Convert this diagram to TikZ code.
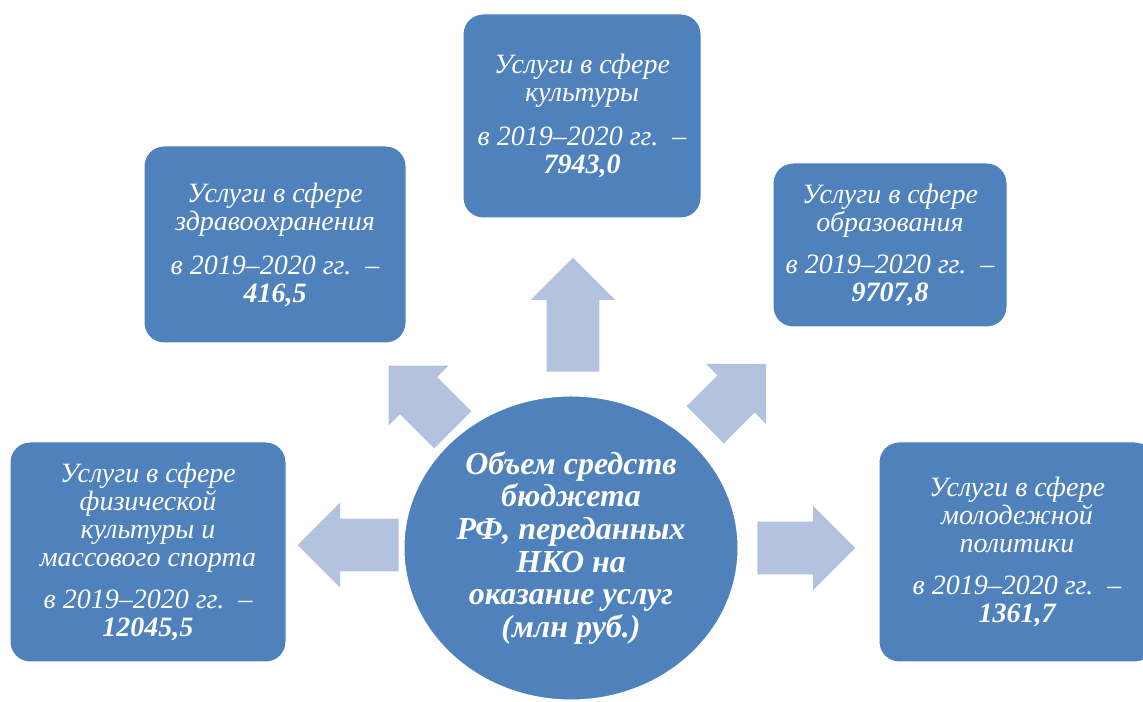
\documentclass[tikz,border=0pt]{standalone}
\usepackage{fontspec}
\setmainfont{Liberation Serif}
\usepackage{tikz}
\usetikzlibrary{shapes.geometric,shapes.arrows}
\definecolor{boxblue}{HTML}{4F81BD}
\definecolor{arrowblue}{HTML}{B3C2DE}
\tikzset{x=0.75pt,y=0.75pt,
    service/.style={draw=white,line width=0.75pt,fill=boxblue,rounded corners=15pt,
        text=white,align=center,inner sep=0pt,
        font=\itshape\fontsize{21}{21}\selectfont},
    total/.style={ellipse,draw=white,line width=0.75pt,fill=boxblue,text=white,
        align=center,inner sep=0pt,
        font=\bfseries\itshape\fontsize{24}{24.5}\selectfont},
    flow/.style={single arrow,fill=arrowblue,draw=none,anchor=tail,
        inner xsep=0pt,inner ysep=19.5pt,
        minimum width=63pt,single arrow head extend=12pt}}

\begin{document}
\begin{tikzpicture}
    \clip (0,0) rectangle (1143,702);
    \node[flow,minimum height=85.5pt,rotate=90]  (toculture) at (573,330) {};
    \node[flow,minimum height=75.75pt,rotate=180] (tosport) at (399,157) {};
    \node[flow,minimum height=73.5pt]            (toyouth) at (757,154) {};
    \node[flow,minimum height=68pt,rotate=135]   (tohealth) at (453,272) {};
    \node[flow,minimum height=64.5pt,rotate=45]  (toedu) at (705,277) {};

    \node[total,minimum width=250.5pt,minimum height=228pt] (budget) at (571,154)
        {Объем средств\\ бюджета\\ РФ, переданных\\ НКО на\\ оказание услуг\\ (млн руб.)};

    \node[service,minimum width=207pt,minimum height=165pt] (sport) at (148,150)
        {Услуги в сфере\\ физической\\ культуры и\\ массового спорта\\[10pt]
         в 2019–2020 гг.~~–\\ \textbf{12045,5}};
    \node[service,minimum width=196.5pt,minimum height=147.75pt] (health) at (275,457.5)
        {Услуги в сфере\\ здравоохранения\\[12pt] в 2019–2020 гг.~~–\\ \textbf{416,5}};
    \node[service,minimum width=178.5pt,minimum height=153pt] (culture) at (582,586)
        {Услуги в сфере\\ культуры\\[12pt] в 2019–2020 гг.~~–\\ \textbf{7943,0}};
    \node[service,minimum width=175.5pt,minimum height=123pt] (edu) at (890,457)
        {Услуги в сфере\\ образования\\[10pt] в 2019–2020 гг.~~–\\ \textbf{9707,8}};
    \node[service,minimum width=207pt,minimum height=165pt] (youth) at (1017,150)
        {Услуги в сфере\\ молодежной\\ политики\\[10pt] в 2019–2020 гг.~~–\\ \textbf{1361,7}};
\end{tikzpicture}
\end{document}
